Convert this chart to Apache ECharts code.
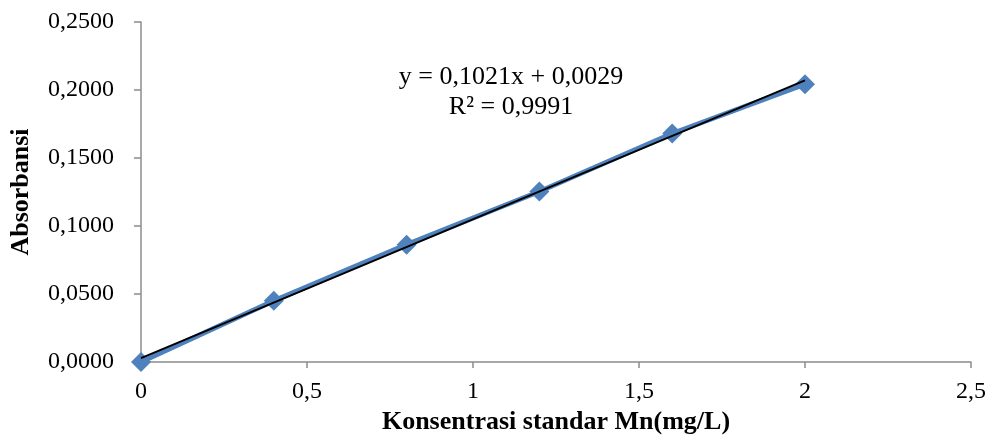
<!DOCTYPE html>
<html>
<head>
<meta charset="utf-8">
<script src="https://cdn.jsdelivr.net/npm/echarts@6/dist/echarts.min.js"></script>
<style>
  html, body { margin: 0; padding: 0; background: #fff; }
  #chart { width: 992px; height: 446px; }
</style>
</head>
<body>
<div id="chart"></div>
<script>
// data
var konsentrasi = [0, 0.4, 0.8, 1.2, 1.6, 2.0];
var absorbansi = [0.0000, 0.0450, 0.0863, 0.1254, 0.1680, 0.2043];
// linear trendline shown in chart (endpoints)
var trendX = [0, 2];
var trendY = [0.0029, 0.2071];
var equationText = ['y = 0,1021x + 0,0029', 'R² = 0,9991'];

var font = '"Liberation Serif", "Times New Roman", serif';

var chart = echarts.init(document.getElementById('chart'));

function pairs(xs, ys) {
    var out = [];
    for (var i = 0; i < xs.length; i++) out.push([xs[i], ys[i]]);
    return out;
}

var option = {
    animation: false,
    grid: { left: 140, right: 21, top: 22, bottom: 84 },
    xAxis: {
        type: 'value',
        min: 0, max: 2.5, interval: 0.5,
        name: 'Konsentrasi standar Mn(mg/L)',
        nameLocation: 'middle',
        nameGap: 46,
        nameTextStyle: { fontFamily: font, fontSize: 26, fontWeight: 'bold', color: '#000' },
        axisLine: { show: true, lineStyle: { color: '#8c8c8c', width: 1.5 } },
        axisTick: { show: true, length: 6, lineStyle: { color: '#8c8c8c', width: 1.5 } },
        axisLabel: {
            fontFamily: font, fontSize: 24, color: '#000', margin: 18,
            formatter: function (v) { return String(v).replace('.', ','); }
        },
        splitLine: { show: false }
    },
    yAxis: {
        type: 'value',
        min: 0, max: 0.25, interval: 0.05,
        name: 'Absorbansi',
        nameLocation: 'middle',
        nameGap: 107,
        nameTextStyle: { fontFamily: font, fontSize: 26, fontWeight: 'bold', color: '#000' },
        axisLine: { show: true, lineStyle: { color: '#8c8c8c', width: 1.5 } },
        axisTick: { show: true, length: 7, lineStyle: { color: '#8c8c8c', width: 1.5 } },
        axisLabel: {
            fontFamily: font, fontSize: 24, color: '#000', margin: 27,
            formatter: function (v) { return v.toFixed(4).replace('.', ','); }
        },
        splitLine: { show: false }
    },
    graphic: [{
        type: 'text',
        x: 511, y: 62,
        style: {
            text: equationText.join('\n'),
            fontFamily: font, fontSize: 26, lineHeight: 30,
            fill: '#000', align: 'center', verticalAlign: 'top'
        }
    }],
    series: [
        {
            type: 'line',
            data: pairs(konsentrasi, absorbansi),
            symbol: 'diamond',
            symbolSize: 20,
            itemStyle: { color: '#4f81bd' },
            lineStyle: { color: '#4f81bd', width: 5 },
            z: 2
        },
        {
            type: 'line',
            data: pairs(trendX, trendY),
            symbol: 'none',
            lineStyle: { color: '#000', width: 2 },
            z: 3
        }
    ]
};

chart.setOption(option);
</script>
</body>
</html>
